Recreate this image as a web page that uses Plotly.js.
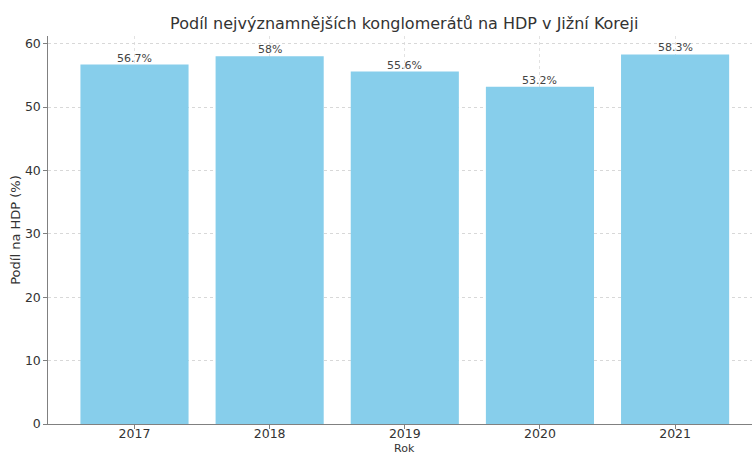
<!DOCTYPE html>
<html>
<head>
<meta charset="utf-8">
<script src="https://cdn.plot.ly/plotly-3.0.1.min.js"></script>
<style>html,body{margin:0;padding:0;background:#fff;}#chart{width:752px;height:454px;}</style>
</head>
<body>
<div id="chart"></div>
<script>
const years = ['2017', '2018', '2019', '2020', '2021'];
const shares = [56.7, 58, 55.6, 53.2, 58.3];
const labels = ['56.7%', '58%', '55.6%', '53.2%', '58.3%'];
const yTicks = [0, 10, 20, 30, 40, 50, 60];

const font = 'DejaVu Sans, sans-serif';
const trace = {
  type: 'bar',
  x: years,
  y: shares,
  marker: {color: '#87CEEB', line: {width: 0}},
  width: 0.8,
  hoverinfo: 'none'
};
// category axis: annotation x given as the category index
const barLabels = years.map((yr, i) => ({
  x: i, y: shares[i], xref: 'x', yref: 'y', text: labels[i],
  showarrow: false, xanchor: 'center', yanchor: 'bottom', yshift: -2,
  font: {family: font, size: 11, color: '#444'}
}));
const layout = {
  width: 752, height: 454,
  margin: {l: 48, r: 0, t: 36, b: 30},
  paper_bgcolor: '#fff', plot_bgcolor: '#fff',
  font: {family: font, color: '#333'},
  showlegend: false,
  title: {text: 'Podíl nejvýznamnějších konglomerátů na HDP v Jižní Koreji',
          font: {family: font, size: 16, color: '#333'},
          xref: 'paper', x: 0.506, xanchor: 'center', yref: 'container', y: 0.948, yanchor: 'middle'},
  xaxis: {
    type: 'category', range: [-0.64, 4.569],
    showline: true, linecolor: '#808080', linewidth: 1.2,
    ticks: 'outside', ticklen: 3.5, tickcolor: '#808080',
    ticklabelstandoff: -6,
    showgrid: true, gridcolor: '#e2e2e2', griddash: 'dot', gridwidth: 1,
    tickfont: {family: font, size: 12.5, color: '#333'},
    zeroline: false
  },
  yaxis: {
    range: [0, 61.2],
    tickvals: yTicks,
    showline: true, linecolor: '#808080', linewidth: 1.2,
    ticks: 'outside', ticklen: 3.5, tickcolor: '#808080',
    showgrid: true, gridcolor: '#d8d8d8', griddash: 'dot', gridwidth: 1,
    tickfont: {family: font, size: 12.5, color: '#333'},
    zeroline: false,
    title: {text: 'Podíl na HDP (%)', font: {family: font, size: 13, color: '#333'}, standoff: 1}
  },
  annotations: barLabels.concat([{
    text: 'Rok', xref: 'paper', yref: 'paper', x: 0.506, y: 0, yshift: -16,
    xanchor: 'center', yanchor: 'top', showarrow: false,
    font: {family: font, size: 11, color: '#333'}
  }])
};
Plotly.newPlot('chart', [trace], layout, {displayModeBar: false, staticPlot: true});
</script>
</body>
</html>
